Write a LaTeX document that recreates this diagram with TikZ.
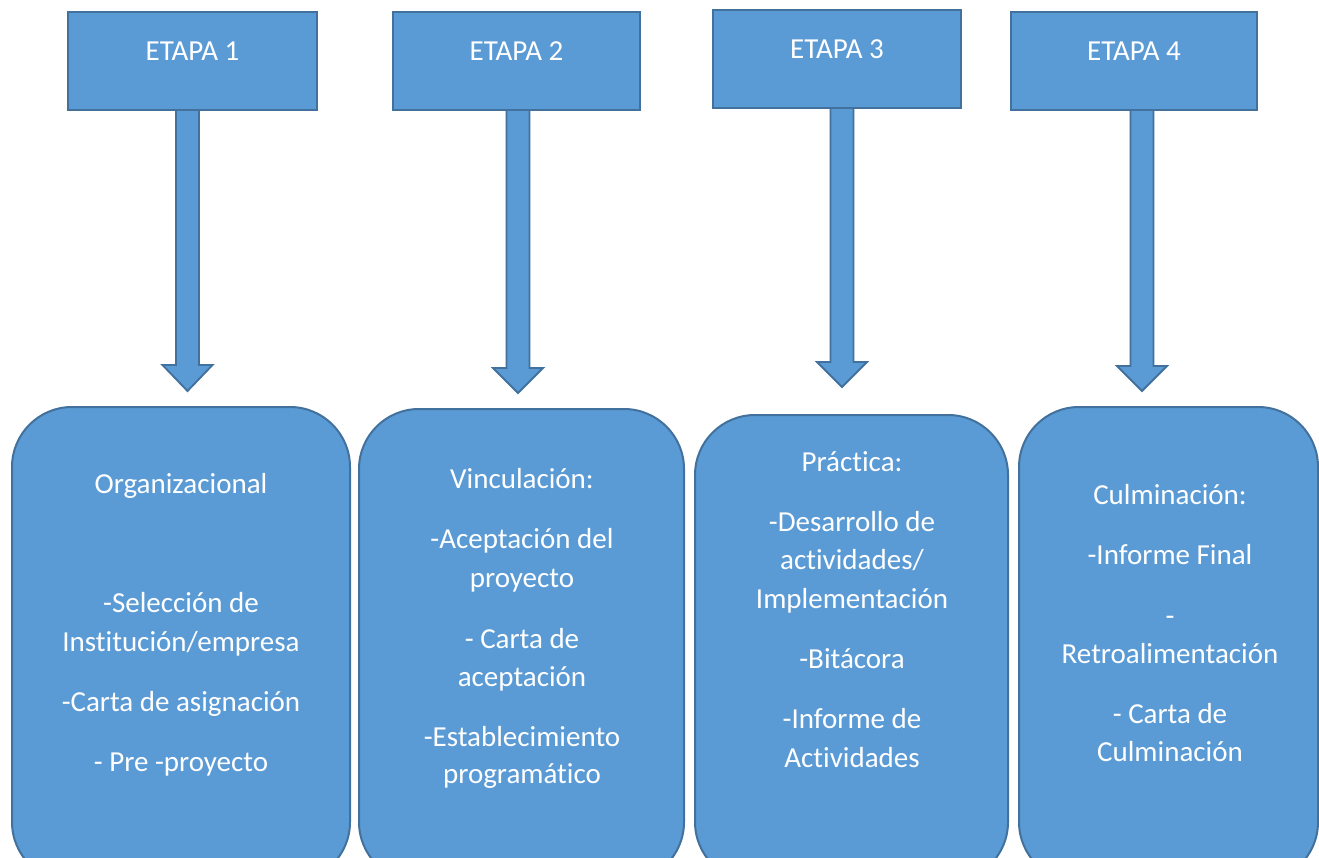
\documentclass[tikz,border=0pt]{standalone}
\usepackage{fontspec}
\setmainfont{Carlito}[RawFeature={-liga;-clig}]
\usetikzlibrary{calc}
\definecolor{boxfill}{HTML}{5B9BD5}
\definecolor{boxline}{HTML}{41719C}
\newcommand\blockarrowdraw[4]{% #1 top node, #2 tip coord, #3 head base coord, #4 name suffix
  \filldraw[barrow] ($(#1.south -| #2)+(-11.5,0)$) -- ($(#3)+(-11.5,0)$) -- ($(#3)+(-25,0)$) -- (#2)
    -- ($(#3)+(25,0)$) -- ($(#3)+(11.5,0)$) -- ($(#1.south -| #2)+(11.5,0)$);}
\begin{document}
\begin{tikzpicture}[x=0.75pt,y=-0.75pt,
  etapa/.style={draw=boxline,fill=boxfill,line width=1.5pt,inner sep=0pt,
    text=white,font=\fontsize{21.75}{26}\selectfont,
    text height=36pt,text depth=37.5pt,minimum width=186pt,align=center},
  fase/.style={draw=boxline,fill=boxfill,line width=1.5pt,rounded corners=45pt,inner sep=0pt},
  barrow/.style={draw=boxline,fill=boxfill,line width=1.4pt,line join=miter},
  body/.style={text=white,font=\fontsize{21.75}{26}\selectfont,anchor=base,inner sep=0pt}]
\useasboundingbox (0,0) rectangle (1319,857);
\clip (0,0) rectangle (1319,857);
\fill[white] (0,0) rectangle (1319,857);
% top boxes
\node[etapa,minimum width=249*0.75pt] (e1) at (192.5,61) {ETAPA 1};
\node[etapa,minimum width=247*0.75pt] (e2) at (516.5,61) {ETAPA 2};
\node[etapa,minimum width=248*0.75pt] (e3) at (837,59) {ETAPA 3};
\node[etapa,minimum width=246*0.75pt] (e4) at (1134,61) {ETAPA 4};
% arrows
\coordinate (t1) at (187.5,391); \coordinate (h1) at (187.5,365);
\coordinate (t2) at (518,393);   \coordinate (h2) at (518,368);
\coordinate (t3) at (842,387);   \coordinate (h3) at (842,362);
\coordinate (t4) at (1142,391);  \coordinate (h4) at (1142,366);
\blockarrowdraw{e1}{t1}{h1}{1}
\blockarrowdraw{e2}{t2}{h2}{2}
\blockarrowdraw{e3}{t3}{h3}{3}
\blockarrowdraw{e4}{t4}{h4}{4}
% phase boxes
\node[fase,minimum width=338*0.75pt,minimum height=475*0.75pt] (r1) at (181,644.5) {};
\node[fase,minimum width=325*0.75pt,minimum height=473*0.75pt] (r2) at (521.5,645.5) {};
\node[fase,minimum width=313*0.75pt,minimum height=467*0.75pt] (r3) at (851.5,648.5) {};
\node[fase,minimum width=299*0.75pt,minimum height=475*0.75pt] (r4) at (1168.5,644.5) {};
% texts box 1
\node[body] (a1) at (181,493) {Organizacional};
\node[body] (a2) at (181,612) {-Selección de};
\node[body] (a3) at (181,651) {Institución/empresa};
\node[body] (a4) at (181,711) {-Carta de asignación};
\node[body] (a5) at (181,771) {- Pre -proyecto};
% texts box 2
\node[body] (b1) at (522,488) {Vinculación:};
\node[body] (b2) at (522,548) {-Aceptación del};
\node[body] (b3) at (522,587) {proyecto};
\node[body] (b4) at (522,648) {- Carta de};
\node[body] (b5) at (522,686) {aceptación};
\node[body] (b6) at (522,746) {-Establecimiento};
\node[body] (b7) at (522,783) {programático};
% texts box 3
\node[body] (c1) at (852,471) {Práctica:};
\node[body] (c2) at (852,531) {-Desarrollo de};
\node[body] (c3) at (852,569) {actividades/};
\node[body] (c4) at (852,608) {Implementación};
\node[body] (c5) at (852,668) {-Bitácora};
\node[body] (c6) at (852,728) {-Informe de};
\node[body] (c7) at (852,767) {Actividades};
% texts box 4
\node[body] (d1) at (1170,504) {Culminación:};
\node[body] (d2) at (1170,564) {-Informe Final};
\node[body] (d3) at (1170,625) {-};
\node[body] (d4) at (1170,663) {Retroalimentación};
\node[body] (d5) at (1170,723) {- Carta de};
\node[body] (d6) at (1170,761) {Culminación};
\end{tikzpicture}
\end{document}
